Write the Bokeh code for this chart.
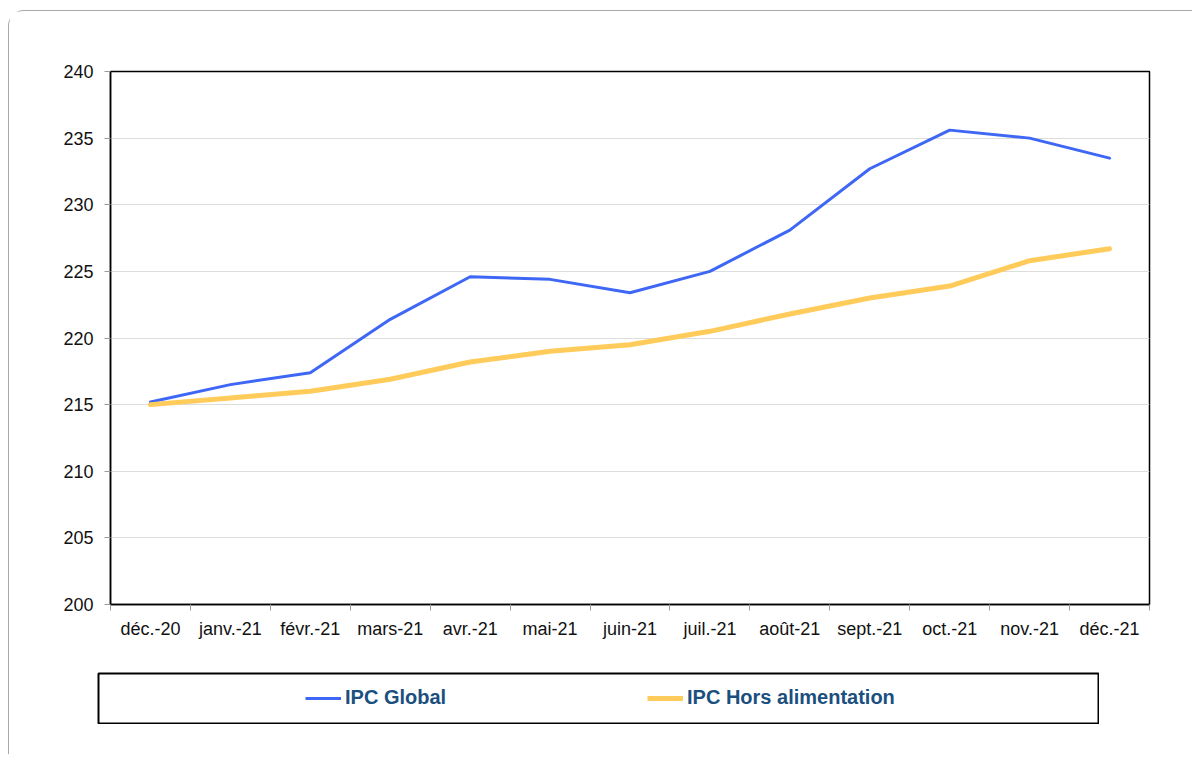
from bokeh.plotting import figure
from bokeh.models import Range1d, FixedTicker, Column, Row
from bokeh.embed import file_html
from bokeh.resources import INLINE

categories = ["déc.-20", "janv.-21", "févr.-21", "mars-21", "avr.-21", "mai-21",
              "juin-21", "juil.-21", "août-21", "sept.-21", "oct.-21", "nov.-21", "déc.-21"]
ipc_global = [215.2, 216.5, 217.4, 221.4, 224.6, 224.4, 223.4, 225.0, 228.1, 232.7, 235.6, 235.0, 233.5]
ipc_hors_alim = [215.0, 215.5, 216.0, 216.9, 218.2, 219.0, 219.5, 220.5, 221.8, 223.0, 223.9, 225.8, 226.7]
series_names = ["IPC Global", "IPC Hors alimentation"]
y_ticks = [200, 205, 210, 215, 220, 225, 230, 235, 240]

BLUE = "#3F67F5"
YELLOW = "#FFCB5B"
FONT = "Liberation Sans"

xs = [i + 0.5 for i in range(len(categories))]

p = figure(width=1183, height=661, output_backend="svg", toolbar_location=None,
           x_range=Range1d(0, len(categories)), y_range=Range1d(200, 240),
           min_border_left=101, min_border_right=43, min_border_top=60, min_border_bottom=68)

p.line(xs, ipc_global, line_color=BLUE, line_width=3, line_join="round", line_cap="round")
p.line(xs, ipc_hors_alim, line_color=YELLOW, line_width=5, line_join="round", line_cap="round")

p.outline_line_color = "black"
p.outline_line_width = 1.5
p.xgrid.visible = False
p.ygrid.grid_line_color = "#dddddd"
p.ygrid.grid_line_width = 1

# x axis: labels at band centres, tick marks at band boundaries
p.xaxis.ticker = FixedTicker(ticks=xs, minor_ticks=list(range(len(categories) + 1)))
p.xaxis.major_label_overrides = {x: c for x, c in zip(xs, categories)}
p.xaxis.major_tick_line_color = None
p.xaxis.minor_tick_line_color = "#9a9a9a"
p.xaxis.minor_tick_out = 6
p.xaxis.minor_tick_in = 0
p.xaxis.major_label_standoff = 8

p.yaxis.ticker = FixedTicker(ticks=y_ticks)
p.yaxis.minor_tick_line_color = None
p.yaxis.major_tick_line_color = "#9a9a9a"
p.yaxis.major_tick_out = 6
p.yaxis.major_tick_in = 0
p.yaxis.major_label_standoff = 11

for ax in (p.xaxis, p.yaxis):
    ax.axis_line_color = "black"
    ax.axis_line_width = 1.5
    ax.major_label_text_font = FONT
    ax.major_label_text_font_size = "18px"
    ax.major_label_text_color = "#111111"

# legend panel (series drawn outside its visible y range; only the legend shows)
lg = figure(width=1002, height=52, output_backend="svg", toolbar_location=None,
            x_range=Range1d(0, len(categories)), y_range=Range1d(0, 1),
            min_border=1, min_border_left=1, min_border_right=1, min_border_top=1, min_border_bottom=1)
lg.line(xs, ipc_global, line_color=BLUE, line_width=3, legend_label=series_names[0])
lg.line(xs, ipc_hors_alim, line_color=YELLOW, line_width=5, legend_label=series_names[1])
lg.axis.visible = False
lg.grid.visible = False
lg.outline_line_color = "black"
lg.outline_line_width = 2
leg = lg.legend[0]
leg.orientation = "horizontal"
leg.location = (207, 14)
leg.padding = 0
leg.margin = 0
leg.spacing = 102
leg.glyph_width = 36
leg.glyph_height = 22
leg.label_height = 22
leg.label_standoff = 4
leg.label_width = 200
leg.border_line_color = None
leg.background_fill_alpha = 0
leg.label_text_font = FONT
leg.label_text_font_size = "20px"
leg.label_text_font_style = "bold"
leg.label_text_color = "#1B4F7F"

legend_row = Row(children=[lg], margin=(0, 0, 30, 88))

layout = Column(children=[p, legend_row], margin=(10, 0, 0, 8),
                styles={"border-top": "1px solid #a8a8a8", "border-left": "1px solid #a8a8a8",
                        "border-top-left-radius": "16px"})

open("out.html", "w").write(file_html(layout, INLINE))
